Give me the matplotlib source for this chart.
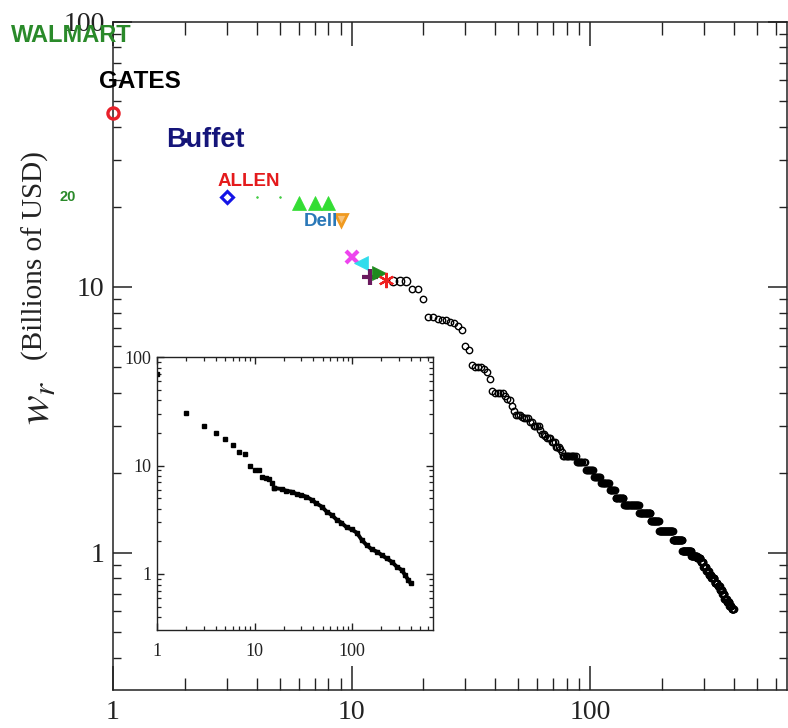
import numpy as np
import matplotlib
matplotlib.use("Agg")
import matplotlib.pyplot as plt
from matplotlib.ticker import FixedLocator, FixedFormatter, LogLocator, NullFormatter

# ---------------- data ----------------
# top-ranked individuals (main panel, coloured symbols)
top_ranks = [1, 2, 3, 4, 5, 6, 7, 8, 9, 10, 11, 12, 13, 14]
top_wealth = [45.4, 35.8, 21.9, 21.9, 21.9, 20.7, 20.7, 20.7, 17.9, 13.0, 12.3, 10.9, 11.3, 10.6]

# ranks 15..76, individually read
mid_ranks = list(range(15, 77))
mid_wealth = [10.5, 10.5, 10.5, 9.8, 9.8, 9.0,
              7.7, 7.7, 7.6, 7.5, 7.5, 7.4, 7.3, 7.1, 6.9,
              6.0, 5.8,
              5.1, 5.0, 5.0, 5.0, 4.9, 4.8, 4.5, 4.05,
              4.0, 4.0, 4.0, 4.0, 3.9, 3.8, 3.75, 3.55, 3.4, 3.3,
              3.3, 3.3, 3.25, 3.2, 3.2, 3.2, 3.1, 3.1, 3.0, 3.0, 3.0, 3.0,
              2.9, 2.8, 2.8, 2.75, 2.7, 2.7, 2.7, 2.6, 2.6, 2.6,
              2.5, 2.5, 2.5, 2.45, 2.4]

# ranks 77..400: reported wealth levels and how many people share each level
level_start_rank = 77
level_wealth = [2.3, 2.2, 2.05, 1.93, 1.82, 1.72, 1.61, 1.51, 1.41, 1.31, 1.21, 1.11, 1.01,
                0.97, 0.95, 0.92, 0.88, 0.85, 0.82, 0.80, 0.77, 0.75, 0.72, 0.70, 0.67,
                0.65, 0.63, 0.61]
level_counts = [11, 8, 8, 7, 10, 7, 11, 22, 19, 15, 28, 21, 22,
                15, 10, 8, 8, 8, 8, 10, 10, 8, 8, 7, 9,
                9, 9, 8]

# inset data
inset_sparse_ranks = [1, 2, 3, 4, 5, 6, 7, 8, 9, 10, 11, 12, 13, 14, 15, 16]
inset_sparse_wealth = [70, 30.3, 23.1, 20.1, 17.5, 15.4, 13.4, 12.7, 10.0, 9.1, 9.0, 7.8, 7.7, 7.5, 6.9, 6.2]
inset_dense_ranks = [16, 19, 21, 24, 27, 30, 34, 39, 43, 49, 55, 62, 70, 78, 88, 99, 112, 126,
                     141, 159, 179, 201, 227, 255, 287, 323, 350, 378, 400]
inset_dense_wealth = [6.2, 6.07, 5.86, 5.74, 5.46, 5.35, 5.16, 4.81, 4.48, 4.18, 3.75, 3.50, 3.15,
                      2.97, 2.69, 2.58, 2.40, 2.06, 1.85, 1.69, 1.61, 1.50, 1.39, 1.30, 1.17,
                      1.09, 0.98, 0.88, 0.82]

x_tick_vals = [1, 10, 100]
x_tick_labels = ["1", "10", "100"]
y_tick_vals = [1, 10, 100]
y_tick_labels = ["1", "10", "100"]

labels = ["WALMART", "GATES", "Buffet", "ALLEN", "Dell", "20"]
y_label_text = "(Billions of USD)"
y_label_sym = r"$w_r$"

# ---------------- styles ----------------
top_styles = [
    dict(marker="o", ms=8, mfc="none", mec="#e8202a", mew=2.4),
    dict(marker="s", ms=3, mfc="#111166", mec="#111166", mew=0.5),
    dict(marker="D", ms=6.5, mfc="none", mec="#1414e6", mew=2.2),
    dict(marker=".", ms=2.5, mfc="#44cc44", mec="#44cc44", mew=0.5),
    dict(marker=".", ms=2.5, mfc="#44cc44", mec="#44cc44", mew=0.5),
    dict(marker="^", ms=10, mfc="#33dd33", mec="#33dd33", mew=0.5),
    dict(marker="^", ms=10, mfc="#33dd33", mec="#33dd33", mew=0.5),
    dict(marker="^", ms=10, mfc="#33dd33", mec="#33dd33", mew=0.5),
    dict(marker="v", ms=9, mfc="#f7c27a", mec="#f09a20", mew=2.0),
    dict(marker="x", ms=9, mfc="none", mec="#ee44ee", mew=3.0),
    dict(marker="<", ms=10, mfc="#30dcec", mec="#30dcec", mew=0.5),
    dict(marker="+", ms=11, mfc="none", mec="#6a1a5e", mew=3.0),
    dict(marker=">", ms=10, mfc="#1e8a1e", mec="#1e8a1e", mew=0.5),
    dict(marker=(6, 2, 0), ms=11, mfc="none", mec="#ee2020", mew=1.6),
]

serif = ["Liberation Serif", "DejaVu Serif"]
sans = ["Liberation Sans", "DejaVu Sans"]
plt.rcParams["font.family"] = serif
plt.rcParams["mathtext.fontset"] = "stix"

W, H = 788, 728
fig = plt.figure(figsize=(W / 100, H / 100), dpi=100)


def rect(l, t, r, b):
    return [l / W, 1 - b / H, (r - l) / W, (b - t) / H]


def style_axes(a, maj_x, min_x, maj_y, min_y, lsize, padx, pady, lw):
    a.set_xscale("log")
    a.set_yscale("log")
    a.xaxis.set_major_locator(FixedLocator(x_tick_vals))
    a.xaxis.set_major_formatter(FixedFormatter(x_tick_labels))
    a.yaxis.set_major_locator(FixedLocator(y_tick_vals))
    a.yaxis.set_major_formatter(FixedFormatter(y_tick_labels))
    a.xaxis.set_minor_locator(LogLocator(base=10, subs=range(2, 10), numticks=20))
    a.yaxis.set_minor_locator(LogLocator(base=10, subs=range(2, 10), numticks=20))
    a.xaxis.set_minor_formatter(NullFormatter())
    a.yaxis.set_minor_formatter(NullFormatter())
    a.tick_params(which="both", direction="in", top=True, right=True, colors="#222222")
    a.tick_params(axis="x", which="major", length=maj_x, width=lw, labelsize=lsize, pad=padx)
    a.tick_params(axis="x", which="minor", length=min_x, width=lw * 0.9)
    a.tick_params(axis="y", which="major", length=maj_y, width=lw, labelsize=lsize, pad=pady)
    a.tick_params(axis="y", which="minor", length=min_y, width=lw * 0.9)
    for s in a.spines.values():
        s.set_linewidth(lw)
        s.set_color("#222222")
    for t in a.get_xticklabels() + a.get_yticklabels():
        t.set_family(serif)


# ---------------- main axes ----------------
ax = fig.add_axes(rect(113, 21.5, 787, 690))
style_axes(ax, 17, 9, 14, 6, 20, 7, 6, 1.1)
ax.set_xlim(1, 10 ** ((787 - 113) / 238.5))
ax.set_ylim(10 ** ((552.5 - 690) / 265.5), 100)

for r, w, st in zip(top_ranks, top_wealth, top_styles):
    ax.plot([r], [w], ls="none", zorder=5, clip_on=False, **st)

ax.plot(mid_ranks[:3], mid_wealth[:3], ls="none", marker="o", ms=6, mfc="none",
        mec="black", mew=1.0, zorder=4)
tail_ranks = np.arange(level_start_rank, level_start_rank + sum(level_counts))
tail_wealth = np.repeat(level_wealth, level_counts)
chain_r = np.concatenate([mid_ranks[3:], tail_ranks])
chain_w = np.concatenate([mid_wealth[3:], tail_wealth])
ax.plot(chain_r, chain_w, ls="none", marker="o", ms=4.6, mfc="none", mec="black",
        mew=1.0, zorder=4)

# ---------------- inset ----------------
ins = fig.add_axes(rect(157, 357, 433, 630))
style_axes(ins, 5, 3, 5, 3, 13, 9, 4, 1.0)
ins.set_xlim(1, 10 ** (276 / 97.5))
ins.set_ylim(10 ** ((574 - 630) / 108.5), 100)
ins.plot(inset_sparse_ranks, inset_sparse_wealth, ls="none", marker="s", ms=2.4,
         color="black")
ins.plot(inset_dense_ranks, inset_dense_wealth, ls="-", lw=2.8, color="black",
         marker="s", ms=2.6, solid_capstyle="round")

# ---------------- annotations ----------------
def ftext(x, y, s, **kw):
    fig.text(x / W, 1 - y / H, s, ha="center", va="center", **kw)


ftext(71, 36, labels[0], fontsize=17, fontweight="bold", color="#2a8a2a", family=sans, zorder=6)
ftext(140, 82, labels[1], fontsize=17.5, fontweight="bold", color="black", family=sans)
ftext(205, 140, labels[2], fontsize=19.5, fontweight="bold", color="#15157a", family=sans)
ftext(249, 181, labels[3], fontsize=13.5, fontweight="bold", color="#e41a1c", family=sans)
ftext(321, 222, labels[4], fontsize=13.5, fontweight="bold", color="#2a78b8", family=sans)
ftext(68, 197, labels[5], fontsize=10.5, fontweight="bold", color="#2a8a2a", family=sans)

ftext(35, 256, y_label_text, fontsize=21, rotation=90, family=serif, color="#222222")
ftext(38, 403, y_label_sym, fontsize=32, rotation=90, color="#222222")

fig.savefig("out.png", dpi=100)
